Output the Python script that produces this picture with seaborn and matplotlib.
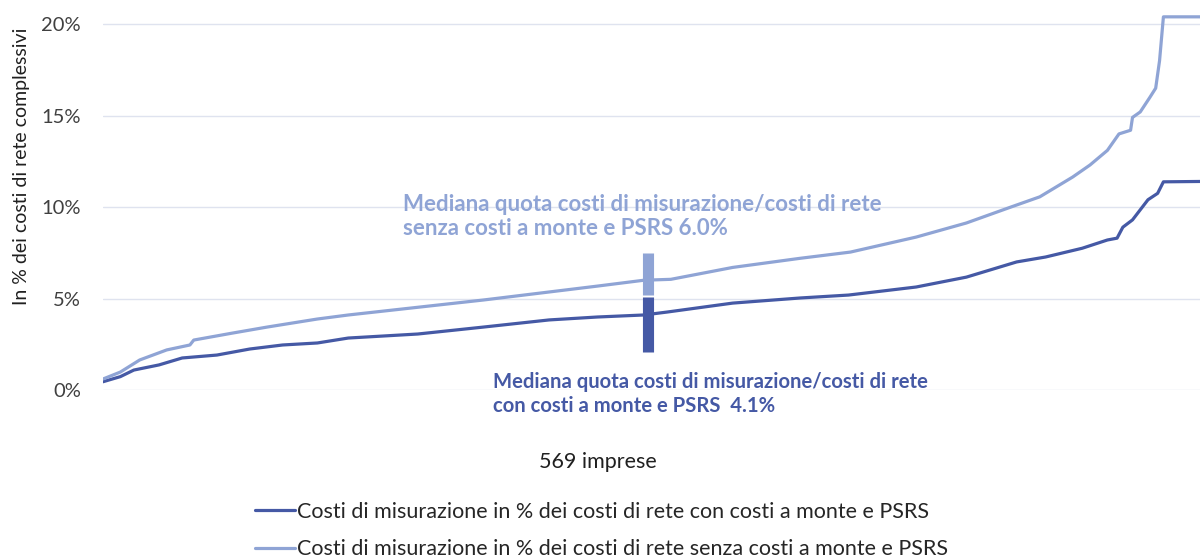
import pandas as pd
from matplotlib import pyplot as plt
import seaborn as sns

# Ranked companies (x = position among 569 firms), values in %
rank_con = [1, 10, 17, 30, 42, 60, 77, 94, 112, 128, 164, 198, 232, 257, 281, 293,
            327, 362, 387, 422, 448, 474, 489, 508, 521, 526, 529, 534, 542, 547, 550, 569]
quota_con = [0.45, 0.73, 1.09, 1.37, 1.75, 1.91, 2.24, 2.46, 2.57, 2.84, 3.06, 3.44, 3.83, 3.99, 4.1, 4.26,
             4.75, 5.03, 5.19, 5.63, 6.17, 7.0, 7.27, 7.75, 8.2, 8.3, 8.9, 9.3, 10.4, 10.75, 11.38, 11.4]

rank_senza = [1, 10, 20, 34, 46, 48, 68, 86, 112, 128, 198, 257, 281, 295, 327, 362, 388,
              422, 448, 471, 486, 503, 512, 521, 527, 533, 534, 538, 543, 546, 548, 550, 569]
quota_senza = [0.6, 0.98, 1.64, 2.19, 2.46, 2.73, 3.11, 3.44, 3.88, 4.1, 4.92, 5.68, 6.0, 6.05, 6.7, 7.2, 7.54,
               8.36, 9.13, 10.0, 10.56, 11.64, 12.3, 13.1, 14.0, 14.2, 14.9, 15.2, 16.0, 16.5, 18.0, 20.4, 20.4]

label_con = "Costi di misurazione in % dei costi di rete con costi a monte e PSRS"
label_senza = "Costi di misurazione in % dei costi di rete senza costi a monte e PSRS"

median_rank = 283
median_con = 4.1
median_senza = 6.0

dark = "#4559a5"
light = "#8fa4d5"

df = pd.concat([
    pd.DataFrame({"rank": rank_con, "quota": quota_con, "serie": label_con}),
    pd.DataFrame({"rank": rank_senza, "quota": quota_senza, "serie": label_senza}),
])

sns.set_style("white")
plt.rcParams['font.family'] = ['Lato', 'DejaVu Sans']

fig = plt.figure(figsize=(12.03, 5.6), dpi=100)
ax = fig.add_axes([0.0856, 0.3036, 0.912, 0.6696])

sns.lineplot(data=df, x="rank", y="quota", hue="serie", palette=[dark, light],
             estimator=None, sort=True, linewidth=2.3, ax=ax)

# median markers
ax.vlines(median_rank, 5.2, 7.5, color=light, linewidth=8)
ax.vlines(median_rank, 2.1, 5.1, color=dark, linewidth=8)

fig.text(403 / 1203, 1 - 216.5 / 560,
         "Mediana quota costi di misurazione/costi di rete\nsenza costi a monte e PSRS %.1f%%" % median_senza,
         color=light, fontsize=16, fontweight="bold", va="center", ha="left", linespacing=1.15)
fig.text(493 / 1203, 1 - 394.5 / 560,
         "Mediana quota costi di misurazione/costi di rete\ncon costi a monte e PSRS  %.1f%%" % median_con,
         color=dark, fontsize=14.6, fontweight="bold", va="center", ha="left", linespacing=1.25)

ax.set_xlim(1, 569)
ax.set_ylim(0, 20.5)
ax.set_yticks([0, 5, 10, 15, 20])
ax.set_yticklabels(["0%", "5%", "10%", "15%", "20%"], fontsize=14.5, color="#404040")
ax.set_xticks([])
ax.set_xlabel("")
ax.grid(axis="y", color="#dfe3ef", linewidth=1)
ax.tick_params(axis="y", length=0, pad=16)
for s in ax.spines.values():
    s.set_visible(False)

ax.set_ylabel("In % dei costi di rete complessivi", fontsize=14, color="#202020")
ax.yaxis.set_label_coords(-0.0665, 0.597)

fig.text(598 / 1203, 1 - 462 / 560, "569 imprese", fontsize=15.5, color="#202020",
         ha="center", va="center")

handles, labels = ax.get_legend_handles_labels()
ax.get_legend().remove()
fig.legend(handles, labels, loc="center left", bbox_to_anchor=(255 / 1203, 1 - 530.5 / 560),
           frameon=False, fontsize=15.5, handlelength=1.86, handletextpad=0.1,
           labelspacing=0.83, borderpad=0, borderaxespad=0)

plt.savefig("out.png", dpi=100)
